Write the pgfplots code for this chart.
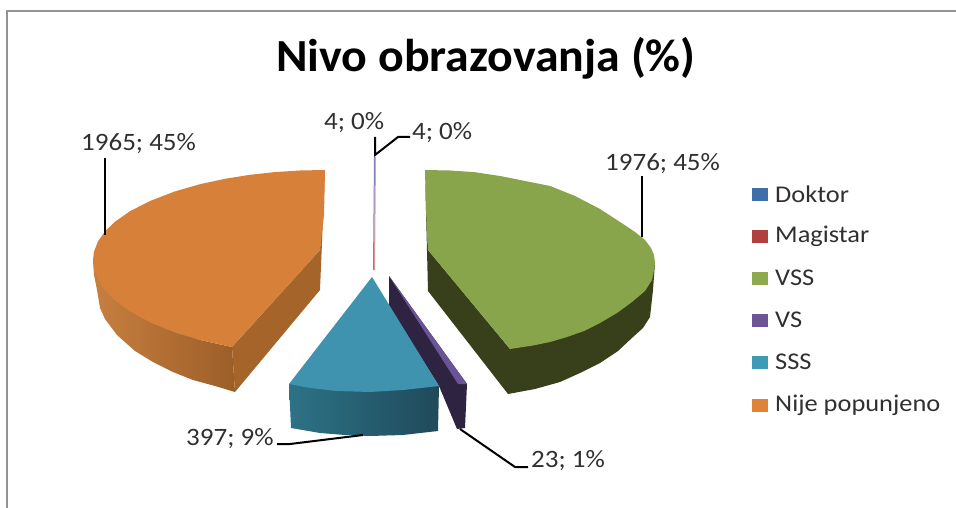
\documentclass[border=0pt]{standalone}
\usepackage{pgfplots}
\pgfplotsset{compat=1.18}
\usepackage{fontspec}
\usepackage{graphicx}
\setmainfont{Carlito}
\definecolor{ortop}{HTML}{D6803A}
\definecolor{orl}{HTML}{C77F3F}
\definecolor{orr}{HTML}{9C5E28}
\definecolor{orw}{HTML}{A5652A}
\definecolor{grtop}{HTML}{89A54C}
\definecolor{grd}{HTML}{37401A}
\definecolor{tetop}{HTML}{3F93AE}
\definecolor{tel}{HTML}{2D7287}
\definecolor{ter}{HTML}{1F4A5A}
\definecolor{vsd}{HTML}{2E2340}
\definecolor{vsl}{HTML}{6B5397}
\definecolor{txt}{HTML}{303030}
\newcommand{\lab}[1]{\scalebox{1.08}[1]{\fontsize{25}{29}\selectfont\textcolor{txt}{#1}}}
\newcommand{\leg}[1]{\scalebox{1.1}[1]{\fontsize{24}{28}\selectfont\textcolor{txt}{#1}}}
\begin{document}
\begin{tikzpicture}
\begin{axis}[
  at={(0,0)},anchor=south west,
  scale only axis,width=956pt,height=508pt,
  xmin=0,xmax=956,ymin=0,ymax=508,y dir=reverse,
  hide axis,clip=true]
% frame
\addplot[color=gray!85,line width=1.5pt] coordinates {(7,508)(7,11)(956,11)};
% Nije popunjeno: walls
\addplot[draw=none,fill=orw] coordinates {(232,347)(235,392)(320,290)(325,171)(320,250)} --cycle;
\addplot[draw=none,shade,left color=orl,right color=orr] coordinates {(93,260)(94,275)(97,290)(100,308)(105,319)(117,335)(135,351)(153,362)(173,372)(193,380)(215,386)(235,392)(232,347)(200,340)(150,322)(115,300)} --cycle;
\addplot[draw=none,fill=ortop] coordinates {(325,170)(300,170.5)(275,172.1)(250,174.8)(225,178.8)(200,184.2)(175,191.4)(150,201)(130,211.2)(115,221.7)(105,231.4)(98,241.4)(94,251.6)(93,260)(94,268.8)(98,279.6)(105,290.2)(115,300.4)(130,311.5)(150,322.3)(175,332.5)(200,340)(232,347)(320,250)(324,215)} --cycle;
% VSS
\addplot[draw=none,fill=grd] coordinates {(425,171)(428,291)(508,394)(535,389)(560,382)(580,373)(600,363)(618,351)(633,337)(643,328)(650,317)(653,290)(655,263)(510,349)(428,250)} --cycle;
\addplot[draw=none,fill=grtop] coordinates {(425,170)(450,170.5)(475,172.2)(500,176)(525,181)(550,186)(575,196)(600,209)(620,222)(635,232)(645,240)(651,248)(654,255)(655,263)(654,270)(652,280)(645,291)(632,302)(617,313)(600,323)(584,331)(567,337)(550,342)(533,345.5)(510,349)(428,250)(426,210)} --cycle;
% VS
\addplot[draw=none,fill=vsd] coordinates {(389,276)(389,307)(439,386)(457,429)(465,428)(467,384)} --cycle;
\addplot[draw=none,fill=vsl] coordinates {(389,276)(467,384)(458,384)} --cycle;
% SSS
\addplot[draw=none,shade,left color=tel,right color=ter] coordinates {(289,384)(291,428)(320,433)(345,435)(370,436)(403,435)(438,431)(439,386)} --cycle;
\addplot[draw=none,fill=tetop] coordinates {(372,277)(289,384)(310,388)(337,391)(370,392)(403,390)(439,386)} --cycle;
% Doktor, Magistar
\addplot[draw=none,fill=blue!45!gray,opacity=.7] coordinates {(374,157)(375,157)(374,270)(373,270)} --cycle;
\addplot[draw=none,fill=red!45!gray,opacity=.5] coordinates {(375,157)(376,157)(375,270)(374,270)} --cycle;
% leaders
\addplot[black,line width=2pt] coordinates {(105,158)(105,235)};
\addplot[black,line width=2pt] coordinates {(642,176)(642,237)};
\addplot[black,line width=2pt] coordinates {(375,137)(375,155)(398,137)(410,137)};
\addplot[black,line width=2pt] coordinates {(277,444)(290,444)(363,435)};
\addplot[black,line width=2pt] coordinates {(460,429)(515,467)(528,467)};
% legend swatches
\addplot[draw=none,fill={rgb,255:red,63;green,111;blue,168}] coordinates {(752,188)(768,188)(768,201)(752,201)} --cycle;
\addplot[draw=none,fill={rgb,255:red,176;green,64;blue,64}] coordinates {(752,230)(768,230)(768,243)(752,243)} --cycle;
\addplot[draw=none,fill={rgb,255:red,142;green,170;blue,80}] coordinates {(752,272)(768,272)(768,285)(752,285)} --cycle;
\addplot[draw=none,fill={rgb,255:red,110;green,84;blue,149}] coordinates {(752,314)(768,314)(768,327)(752,327)} --cycle;
\addplot[draw=none,fill={rgb,255:red,63;green,154;blue,181}] coordinates {(752,356)(768,356)(768,369)(752,369)} --cycle;
\addplot[draw=none,fill={rgb,255:red,224;green,131;blue,56}] coordinates {(752,399)(768,399)(768,412)(752,412)} --cycle;
% text
\node[anchor=center,inner sep=0pt] at (axis cs:486,58) {\scalebox{1.04}[1]{\fontsize{46}{54}\selectfont\bfseries Nivo obrazovanja (\%)}};
\node[anchor=west,inner sep=0pt] at (axis cs:81,144) {\lab{1965; 45\%}};
\node[anchor=west,inner sep=0pt] at (axis cs:324,123) {\lab{4; 0\%}};
\node[anchor=west,inner sep=0pt] at (axis cs:412,133) {\lab{4; 0\%}};
\node[anchor=west,inner sep=0pt] at (axis cs:605,164) {\lab{1976; 45\%}};
\node[anchor=west,inner sep=0pt] at (axis cs:186,439) {\lab{397; 9\%}};
\node[anchor=west,inner sep=0pt] at (axis cs:531,461) {\lab{23; 1\%}};
\node[anchor=west,inner sep=0pt] at (axis cs:775,194) {\leg{Doktor}};
\node[anchor=west,inner sep=0pt] at (axis cs:775,236) {\leg{Magistar}};
\node[anchor=west,inner sep=0pt] at (axis cs:775,278) {\leg{VSS}};
\node[anchor=west,inner sep=0pt] at (axis cs:775,320) {\leg{VS}};
\node[anchor=west,inner sep=0pt] at (axis cs:775,362) {\leg{SSS}};
\node[anchor=west,inner sep=0pt] at (axis cs:775,405) {\leg{Nije popunjeno}};
\end{axis}
\pgfresetboundingbox
\path[use as bounding box] (0,0) rectangle (956pt,508pt);
\end{tikzpicture}
\end{document}
